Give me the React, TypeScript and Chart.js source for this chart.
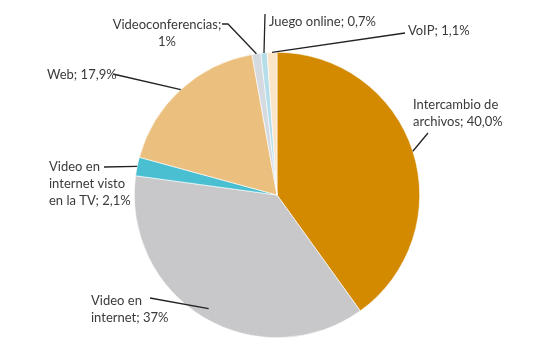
import React, { useEffect, useRef } from "react";
import { Chart, registerables } from "chart.js";

Chart.register(...registerables);

const categories = [
  "Intercambio de archivos",
  "Video en internet",
  "Video en internet visto en la TV",
  "Web",
  "Videoconferencias",
  "Juego online",
  "VoIP",
];
const values = [40.0, 37, 2.1, 17.9, 1, 0.7, 1.1];
const labelTexts = [
  ["Intercambio de", "archivos; 40,0%"],
  ["Video en", "internet; 37%"],
  ["Video en", "internet visto", "en la TV; 2,1%"],
  ["Web; 17,9%"],
  ["Videoconferencias;", "1%"],
  ["Juego online; 0,7%"],
  ["VoIP; 1,1%"],
];
const colors = ["#D38A00", "#C8C8CA", "#4BBFD2", "#EBC07F", "#D4DADF", "#B5DDEA", "#FBE5C8"];

// label layout: text anchor (x,y of first line), alignment, leader line start points
const labelLayout = [
  { x: 413, y: 105, align: "left", line: [[428, 133]], r: 1.0 },
  { x: 91, y: 301, align: "left", line: [[150, 298]], r: 0.93 },
  { x: 49, y: 167, align: "left", line: [[104, 167]], r: 1.0 },
  { x: 47, y: 75, align: "left", line: [[113, 74]], r: 1.0 },
  { x: 167, y: 25, align: "center", line: [[222, 24], [228, 24]], r: 1.0 },
  { x: 269, y: 22, align: "left", line: [[265, 14]], r: 1.0 },
  { x: 408, y: 31, align: "left", line: [[405, 33]], r: 1.0 },
];

const labelPlugin = {
  id: "pieLabels",
  afterDatasetsDraw(chart: any) {
    const ctx = chart.ctx;
    const meta = chart.getDatasetMeta(0);
    ctx.save();
    meta.data.forEach((arc: any, i: number) => {
      const lay = labelLayout[i];
      const p = arc.getProps(["x", "y", "startAngle", "endAngle", "outerRadius"], true);
      const mid = (p.startAngle + p.endAngle) / 2;
      const ex = p.x + Math.cos(mid) * p.outerRadius * lay.r;
      const ey = p.y + Math.sin(mid) * p.outerRadius * lay.r;
      ctx.strokeStyle = "#222";
      ctx.lineWidth = 1.3;
      ctx.beginPath();
      ctx.moveTo(lay.line[0][0], lay.line[0][1]);
      for (let k = 1; k < lay.line.length; k++) ctx.lineTo(lay.line[k][0], lay.line[k][1]);
      ctx.lineTo(ex, ey);
      ctx.stroke();
      ctx.fillStyle = "#3a3a3a";
      ctx.font = "13px Lato";
      ctx.textBaseline = "middle";
      ctx.textAlign = lay.align;
      labelTexts[i].forEach((t, j) => {
        ctx.fillText(t, lay.x, lay.y + j * 17);
      });
    });
    ctx.restore();
  },
};

export default function App() {
  const ref = useRef<HTMLCanvasElement>(null);
  useEffect(() => {
    const chart = new Chart(ref.current!, {
      type: "pie",
      data: {
        labels: categories,
        datasets: [
          {
            data: values,
            backgroundColor: colors,
            borderColor: "#ffffff",
            borderWidth: 0.6,
          },
        ],
      },
      options: {
        animation: false,
        responsive: false,
        maintainAspectRatio: false,
        layout: { padding: { top: 52, bottom: 16, left: 0, right: 6 } },
        plugins: { legend: { display: false }, tooltip: { enabled: false } },
      },
      plugins: [labelPlugin],
    } as any);
    return () => chart.destroy();
  }, []);
  return (
    <div style={{ position: "fixed", left: 0, top: 0, width: 560, height: 354, background: "#fff" }}>
      <canvas ref={ref} width={560} height={354} style={{ width: 560, height: 354 }} />
    </div>
  );
}
